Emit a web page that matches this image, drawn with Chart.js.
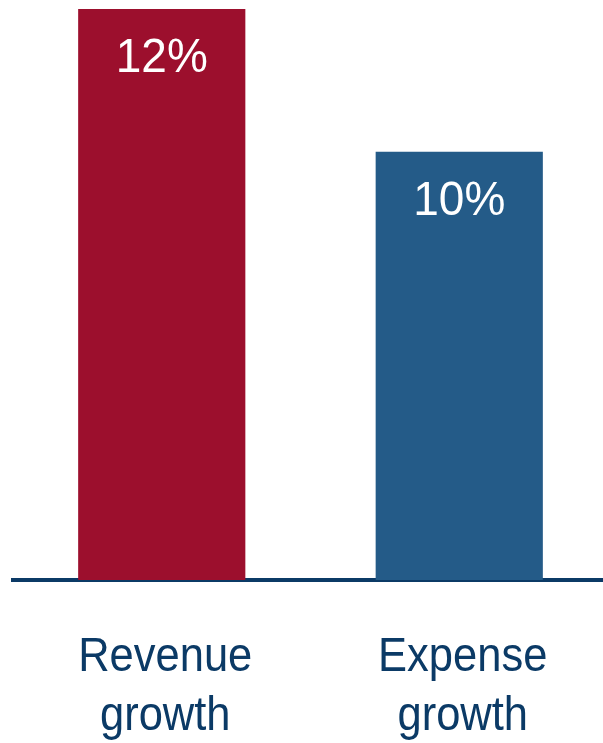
<!DOCTYPE html>
<html>
<head>
<meta charset="utf-8">
<script src="https://cdn.jsdelivr.net/npm/chart.js@4/dist/chart.umd.min.js"></script>
<style>
    html, body { margin: 0; padding: 0; background: #fff; overflow: hidden; }
    #wrap { width: 608px; height: 743px; position: relative; }
</style>
</head>
<body>
<div id="wrap"><canvas id="chart"></canvas></div>
<script>
/* ------------------------------- Data -------------------------------*/

var categories = [["Revenue", "growth"], ["Expense", "growth"]];
var values = [12, 10];
var valueLabels = ["12%", "10%"];
var barColors = ["#9c0f2d", "#245b88"];

var navy = "#0b3a66";

/* ------------------------------- Plugins -------------------------------*/

function drawStretched(ctx, text, x, y, stretch) {   // текст, трохи витягнутий по вертикалі
    ctx.save();
    ctx.translate(x, y);
    ctx.scale(1, stretch);
    ctx.fillText(text, 0, 0);
    ctx.restore();
}

var labelsPlugin = {
    id: 'labels',
    afterDatasetsDraw: function (chart) {
        var ctx = chart.ctx;
        var meta = chart.getDatasetMeta(0);
        var xScale = chart.scales.x;

        ctx.save();
        ctx.textAlign = 'center';
        ctx.textBaseline = 'alphabetic';

        // значення всередині стовпців
        ctx.fillStyle = '#ffffff';
        ctx.font = '46px "Liberation Sans", Arial, sans-serif';
        meta.data.forEach(function (bar, i) {
            drawStretched(ctx, valueLabels[i], bar.x, bar.y + 63, 1.06);
        });

        // підписи категорій під віссю
        ctx.fillStyle = navy;
        ctx.font = '43.5px "Liberation Sans", Arial, sans-serif';
        categories.forEach(function (lines, i) {
            var x = xScale.getPixelForValue(i) + 3.5;
            lines.forEach(function (line, j) {
                drawStretched(ctx, line, x, xScale.top + 91 + j * 59, 1.12);
            });
        });
        ctx.restore();
    }
};

/* ------------------------------- Chart -------------------------------*/

var ctx = document.getElementById('chart').getContext('2d');
new Chart(ctx, {
    type: 'bar',
    data: {
        labels: categories.map(function (l) { return l.join(' '); }),
        datasets: [{
            data: values,
            backgroundColor: barColors,
            borderWidth: 0,
            barPercentage: 1,
            categoryPercentage: 0.562
        }]
    },
    options: {
        responsive: true,
        maintainAspectRatio: false,
        animation: false,
        layout: { padding: { top: 9, left: 13, right: 0, bottom: 0 } },
        plugins: {
            legend: { display: false },
            tooltip: { enabled: false }
        },
        scales: {
            x: {
                grid: { display: false, drawTicks: false },
                border: { display: true, color: navy, width: 4 },
                ticks: { display: false },
                afterFit: function (scale) { scale.height = 163; }
            },
            y: {
                display: false,
                min: 4,
                max: 12
            }
        }
    },
    plugins: [labelsPlugin]
});
</script>
</body>
</html>
